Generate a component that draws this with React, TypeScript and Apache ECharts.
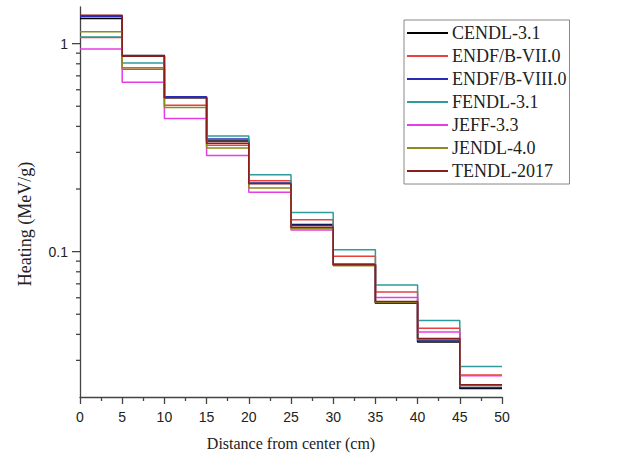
import React, { useEffect, useRef } from "react";
import * as echarts from "echarts";

const binEdges = [0, 5, 10, 15, 20, 25, 30, 35, 40, 45, 50];
const seriesNames = ["CENDL-3.1", "ENDF/B-VII.0", "ENDF/B-VIII.0", "FENDL-3.1", "JEFF-3.3", "JENDL-4.0", "TENDL-2017"];
const seriesColors = ["#000000", "#e8403f", "#2a2ab5", "#2c9c9c", "#e63ce6", "#8c8c1c", "#8b1c1c"];

const cendl = [1.32, 0.878, 0.551, 0.340, 0.213, 0.135, 0.0870, 0.0565, 0.0368, 0.0220];
const endf7 = [1.07, 0.752, 0.505, 0.325, 0.219, 0.1425, 0.0950, 0.0640, 0.0428, 0.0255];
const endf8 = [1.35, 0.875, 0.555, 0.348, 0.213, 0.134, 0.0868, 0.0567, 0.0374, 0.0222];
const fendl = [1.075, 0.806, 0.548, 0.360, 0.234, 0.154, 0.1020, 0.0692, 0.0466, 0.0280];
const jeff = [0.943, 0.652, 0.436, 0.290, 0.193, 0.127, 0.0862, 0.0601, 0.0411, 0.0253];
const jendl = [1.14, 0.765, 0.493, 0.315, 0.202, 0.129, 0.0855, 0.0570, 0.0378, 0.0227];
const tendl = [1.37, 0.870, 0.550, 0.332, 0.212, 0.131, 0.0865, 0.0575, 0.0382, 0.0229];

const allValues = [cendl, endf7, endf8, fendl, jeff, jendl, tendl];

const yMajorTicks = [0.1, 1];
const yMinorTicks = [0.03, 0.04, 0.05, 0.06, 0.07, 0.08, 0.09, 0.2, 0.3, 0.4, 0.5, 0.6, 0.7, 0.8, 0.9];

export default function App() {
  const ref = useRef<HTMLDivElement>(null);
  useEffect(() => {
    if (!ref.current) return;
    const chart = echarts.init(ref.current, null, { renderer: "svg" });
    const lineSeries = seriesNames.map((name, k) => ({
      name,
      type: "line",
      step: "end",
      symbol: "none",
      data: binEdges.map((x, i) => [x, allValues[k][Math.min(i, allValues[k].length - 1)]]),
      lineStyle: { color: seriesColors[k], width: 1.5 },
      itemStyle: { color: seriesColors[k] },
      z: 2 + k,
    }));
    const tickData = [
      ...yMajorTicks.map((v) => [0, v, 8]),
      ...yMinorTicks.map((v) => [0, v, 4]),
    ];
    const tickSeries = {
      type: "custom",
      silent: true,
      clip: false,
      encode: { x: 0, y: 1 },
      data: tickData,
      renderItem: (params: any, api: any) => {
        const v = api.value(1);
        const len = api.value(2);
        const p = api.coord([0, v]);
        return {
          type: "line",
          shape: { x1: p[0] - len, y1: p[1], x2: p[0], y2: p[1] },
          style: { stroke: "#444", lineWidth: 1.3 },
        };
      },
      z: 20,
    };
    chart.setOption({
      animation: false,
      backgroundColor: "#ffffff",
      grid: { left: 80, right: 127, top: 7, bottom: 59, containLabel: false },
      legend: {
        data: seriesNames,
        orient: "vertical",
        left: 404,
        top: 20,
        padding: [4, 3, 4, 3],
        itemGap: 5,
        itemWidth: 41,
        itemHeight: 2,
        icon: "rect",
        borderColor: "#888",
        borderWidth: 1,
        textStyle: { fontFamily: "Liberation Serif, Times New Roman, serif", fontSize: 18, color: "#222", padding: [0, 0, 0, -1] },
      },
      xAxis: {
        type: "value",
        min: 0,
        max: 50,
        interval: 5,
        name: "Distance from center (cm)",
        nameLocation: "middle",
        nameGap: 38,
        nameTextStyle: { fontFamily: "Liberation Serif, Times New Roman, serif", fontSize: 16, color: "#222" },
        axisLine: { lineStyle: { color: "#444", width: 1.3 } },
        axisTick: { show: true, length: 7, lineStyle: { color: "#444", width: 1.3 } },
        minorTick: { show: true, splitNumber: 2, length: 4, lineStyle: { color: "#444", width: 1.3 } },
        axisLabel: { fontFamily: "Liberation Sans, Arial, sans-serif", fontSize: 14, color: "#222", margin: 13 },
        splitLine: { show: false },
      },
      yAxis: {
        type: "log",
        logBase: 10,
        min: 0.02,
        max: 1.5,
        name: "Heating (MeV/g)",
        nameLocation: "middle",
        nameGap: 46,
        nameTextStyle: { fontFamily: "Liberation Serif, Times New Roman, serif", fontSize: 18, color: "#222", padding: [0, 44, 0, 0] },
        axisLine: { show: true, lineStyle: { color: "#444", width: 1.3 } },
        axisTick: { show: false },
        splitLine: { show: false },
        axisLabel: {
          fontFamily: "Liberation Sans, Arial, sans-serif",
          fontSize: 14,
          color: "#222",
          margin: 12,
          showMinLabel: false,
          showMaxLabel: false,
          formatter: (v: number) => {
            if (Math.abs(v - 1) < 1e-9) return "1";
            if (Math.abs(v - 0.1) < 1e-9) return "0.1";
            return "";
          },
        },
      },
      series: [...lineSeries, tickSeries],
    });
    return () => chart.dispose();
  }, []);
  return <div ref={ref} style={{ width: 629, height: 456, position: "absolute", left: 0, top: 0 }} />;
}
